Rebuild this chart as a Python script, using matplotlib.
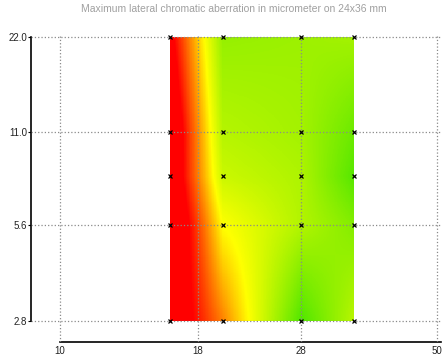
import numpy as np
import matplotlib
matplotlib.use("Agg")
import matplotlib.pyplot as plt
from matplotlib.colors import LinearSegmentedColormap
from matplotlib.ticker import FixedLocator, FixedFormatter, NullLocator

# focal lengths (mm) and f-numbers of the measured points
focal = [16, 20, 28, 35]
fnum = [2.8, 5.6, 8, 11, 22]

# lateral CA in micrometer, one row per f-number
ca_f28 = [11.9, 7.5, 0.0, 3.0]
ca_f56 = [12.9, 5.0, 2.8, 1.5]
ca_f8 = [12.1, 3.5, 2.7, 0.2]
ca_f11 = [12.3, 2.9, 2.4, 0.8]
ca_f22 = [10.6, 2.0, 2.2, 2.4]

xticks = [10, 18, 28, 50]
yticks = [2.8, 5.6, 11.0, 22.0]
title = "Maximum lateral chromatic aberration in micrometer on 24x36 mm"

plt.rcParams['font.family'] = ['Liberation Sans', 'DejaVu Sans']

Z = np.array([ca_f28, ca_f56, ca_f8, ca_f11, ca_f22])
lx = np.log(focal)
ly = np.log(fnum)

# bilinear interpolation in log-log space for a smooth map
n = 300
xe = np.linspace(lx[0], lx[-1], n + 1)
ye = np.linspace(ly[0], ly[-1], n + 1)
xc = (xe[:-1] + xe[1:]) / 2
yc = (ye[:-1] + ye[1:]) / 2
rows = np.array([np.interp(xc, lx, r) for r in Z])
fine = np.array([np.interp(yc, ly, rows[:, i]) for i in range(n)]).T

cmap = LinearSegmentedColormap.from_list(
    "ca", [(0.0, "#50e600"), (0.5, "#ffff00"), (1.0, "#ff0000")])

fig = plt.figure(figsize=(4.47, 3.58), dpi=100)
ax = fig.add_axes([31 / 447, 16 / 358, 410 / 447, 307 / 358])
ax.set_xscale('log')
ax.set_yscale('log')

ax.pcolormesh(np.exp(xe), np.exp(ye), fine, cmap=cmap, vmin=0, vmax=10,
              shading='flat', zorder=1)

xx, yy = np.meshgrid(focal, fnum)
ax.plot(xx.ravel(), yy.ravel(), 'x', color='black', ms=2.5, mew=0.9,
        zorder=4, clip_on=False)

ax.set_xlim(8.83, 50.8)
ax.set_ylim(2.40, 22.3)

ax.xaxis.set_major_locator(FixedLocator(xticks))
ax.xaxis.set_major_formatter(FixedFormatter([str(t) for t in xticks]))
ax.xaxis.set_minor_locator(NullLocator())
ax.yaxis.set_major_locator(FixedLocator(yticks))
ax.yaxis.set_major_formatter(FixedFormatter(["%.1f" % t for t in yticks]))
ax.yaxis.set_minor_locator(NullLocator())

ax.tick_params(axis='x', length=0, pad=3, labelsize=7, labelcolor='#222222')
ax.tick_params(axis='y', length=2, width=0.8, pad=1, labelsize=7,
               labelcolor='#222222')

ax.grid(True, linestyle=':', color='#8a8a8a', linewidth=0.9)
ax.set_axisbelow(False)

ax.spines['top'].set_visible(False)
ax.spines['right'].set_visible(False)
ax.spines['left'].set_bounds(2.8, 22)
ax.spines['bottom'].set_bounds(10, 50.8)
for s in ['left', 'bottom']:
    ax.spines[s].set_linewidth(1.2)

fig.text(234 / 447, 1 - 9 / 358, title, ha='center', va='center',
         fontsize=7.5, color='#a0a0a0')

fig.savefig("out.png", dpi=100)
